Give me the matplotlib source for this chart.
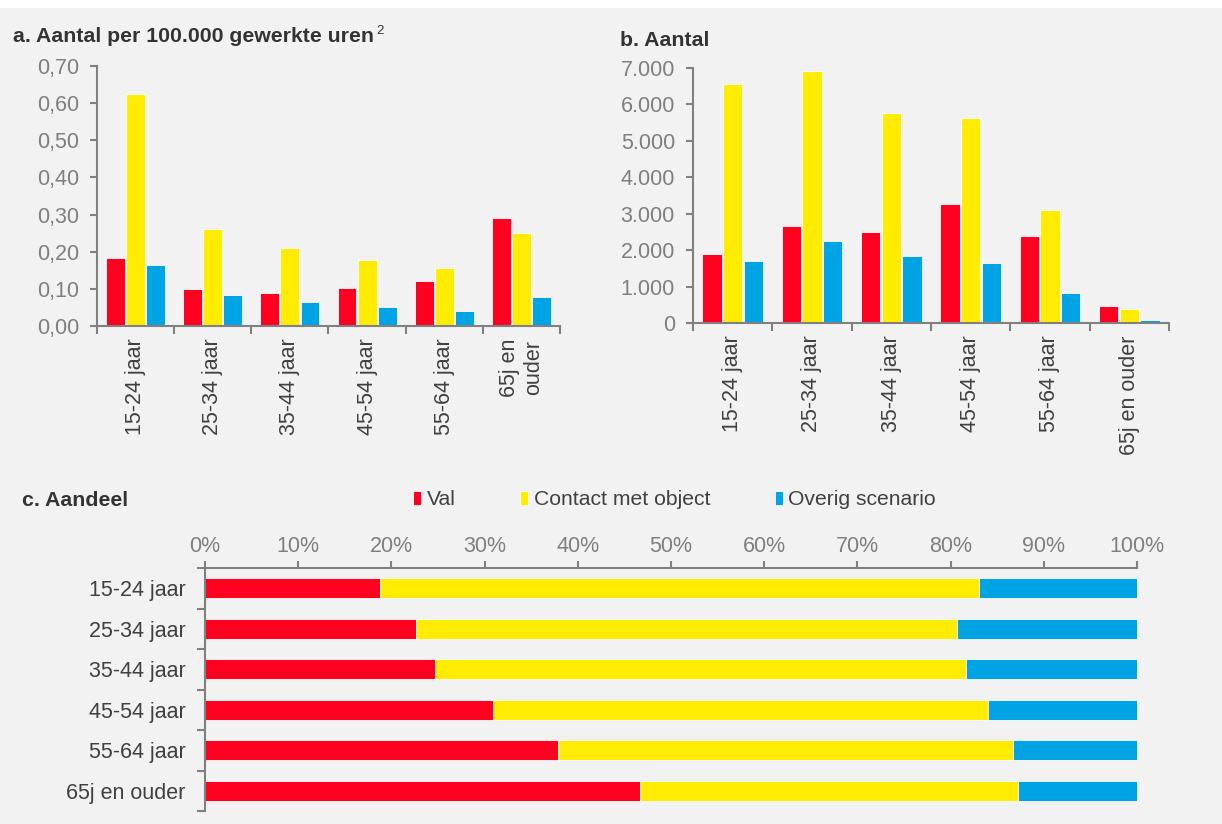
"""
Ongevallen naar scenario en leeftijdscategorie: rate, count and share panels.
"""
import numpy as np
import matplotlib
matplotlib.use("Agg")
import matplotlib.pyplot as plt
from matplotlib.patches import Rectangle

plt.rcParams["font.family"] = ["Liberation Sans", "DejaVu Sans"]

# --- Data ---
AGES = ["15-24 jaar", "25-34 jaar", "35-44 jaar", "45-54 jaar", "55-64 jaar", "65j en ouder"]
AGES_A = ["15-24 jaar", "25-34 jaar", "35-44 jaar", "45-54 jaar", "55-64 jaar", "65j en\nouder"]
SCENARIOS = ["Val", "Contact met object", "Overig scenario"]

rate_val = [0.183, 0.100, 0.090, 0.102, 0.121, 0.291]
rate_contact = [0.625, 0.260, 0.209, 0.178, 0.156, 0.250]
rate_overig = [0.163, 0.083, 0.065, 0.051, 0.040, 0.078]

count_val = [1890, 2670, 2490, 3270, 2400, 460]
count_contact = [6560, 6910, 5770, 5630, 3100, 380]
count_overig = [1690, 2250, 1830, 1660, 810, 90]

share_val = [18.8, 22.6, 24.7, 30.9, 37.9, 46.7]
share_contact = [64.2, 58.1, 56.9, 53.1, 48.8, 40.5]
share_overig = [17.0, 19.3, 18.4, 16.0, 13.3, 12.8]

COLORS = ["#FF0021", "#FFEC00", "#00A4E4"]
BG = "#F2F2F2"
SPINE = "#808080"
TICK_TXT = "#7F7F7F"
LABEL_TXT = "#404040"
TITLE_TXT = "#333333"
FS = 15.5
TFS = 15.3

W, H = 1222, 824
fig = plt.figure(figsize=(W / 100, H / 100), dpi=100, facecolor=BG)
fig.patches.append(Rectangle((0, 1 - 8 / H), 1, 8 / H, transform=fig.transFigure,
                             facecolor="white", edgecolor="none", zorder=-1))


def px_axes(left, top, right, bottom):
    return fig.add_axes([left / W, 1 - bottom / H, (right - left) / W, (bottom - top) / H])


def style_spines(ax, visible):
    for side, sp in ax.spines.items():
        sp.set_visible(side in visible)
        sp.set_color(SPINE)
        sp.set_linewidth(1.5)
    ax.set_facecolor("none")


def column_panel(ax, series, labels, ymax, ystep, fmt):
    x = np.arange(len(labels))
    width = 0.245
    for i, (vals, col) in enumerate(zip(series, COLORS)):
        ax.bar(x + (i - 1) * 0.26, vals, width, color=col, edgecolor="white", linewidth=0.6)
    ax.set_xlim(-0.5, len(labels) - 0.5)
    ax.set_ylim(0, ymax)
    style_spines(ax, ["left", "bottom"])
    yt = np.arange(0, ymax + ystep / 2, ystep)
    ax.set_yticks(yt)
    ax.set_yticklabels([fmt(v) for v in yt], fontsize=FS, color=TICK_TXT)
    ax.tick_params(axis="y", direction="out", length=5, width=1.5, color=SPINE, pad=8)
    ax.set_xticks(x)
    ax.set_xticklabels(labels, rotation=90, fontsize=FS, color=LABEL_TXT, va="top", ha="center")
    ax.tick_params(axis="x", which="major", length=0, pad=9)
    ax.set_xticks(np.arange(-0.5, len(labels)), minor=True)
    ax.tick_params(axis="x", which="minor", direction="out", length=6, width=1.5, color=SPINE)


# --- a. rate per 100.000 hours ---
ax_a = px_axes(97, 66, 560, 326)
column_panel(ax_a, [rate_val, rate_contact, rate_overig], AGES_A, 0.70, 0.10,
             lambda v: f"{v:.2f}".replace(".", ","))
fig.text(13 / W, 1 - 37 / H, "a. Aantal per 100.000 gewerkte uren", fontsize=TFS,
         fontweight="bold", color=TITLE_TXT, va="center", ha="left")
fig.text(376 / W, 1 - 31 / H, "2", fontsize=9.5, color=TITLE_TXT, va="center", ha="left")

# --- b. count ---
ax_b = px_axes(693, 68, 1169, 323)
column_panel(ax_b, [count_val, count_contact, count_overig], AGES, 7000, 1000,
             lambda v: f"{int(v):,}".replace(",", "."))
fig.text(620 / W, 1 - 40 / H, "b. Aantal", fontsize=TFS, fontweight="bold",
         color=TITLE_TXT, va="center", ha="left")

# --- c. share ---
ax_c = px_axes(205, 568, 1137, 811)
y = np.arange(len(AGES))
left = np.zeros(len(AGES))
bars = []
for vals, col, name in zip([share_val, share_contact, share_overig], COLORS, SCENARIOS):
    b = ax_c.barh(y, vals, 0.5, left=left, color=col, edgecolor="white", linewidth=0.6, label=name)
    bars.append(b)
    left = left + np.array(vals)
ax_c.set_xlim(0, 100)
ax_c.set_ylim(len(AGES) - 0.5, -0.5)
style_spines(ax_c, ["left", "top"])
ax_c.xaxis.tick_top()
ax_c.set_xticks(np.arange(0, 101, 10))
ax_c.set_xticklabels([f"{v}%" for v in range(0, 101, 10)], fontsize=FS, color=TICK_TXT)
ax_c.tick_params(axis="x", direction="out", length=5, width=1.5, color=SPINE, pad=3)
ax_c.set_yticks(y)
ax_c.set_yticklabels(AGES, fontsize=FS, color=LABEL_TXT)
ax_c.tick_params(axis="y", which="major", length=0, pad=14)
ax_c.set_yticks(np.arange(-0.5, len(AGES)), minor=True)
ax_c.tick_params(axis="y", which="minor", direction="out", length=6, width=1.5, color=SPINE)
fig.text(22 / W, 1 - 501 / H, "c. Aandeel", fontsize=TFS, fontweight="bold",
         color=TITLE_TXT, va="center", ha="left")

leg = fig.legend(handles=bars, labels=SCENARIOS, loc="center left",
                 bbox_to_anchor=(413 / W, 1 - 500 / H), ncol=3, frameon=False,
                 fontsize=15.2, handlelength=0.4, handleheight=0.7, handletextpad=0.25,
                 columnspacing=3.05, borderpad=0, borderaxespad=0)
for t in leg.get_texts():
    t.set_color(LABEL_TXT)

plt.savefig("out.png", dpi=100, facecolor=BG)
plt.close()
